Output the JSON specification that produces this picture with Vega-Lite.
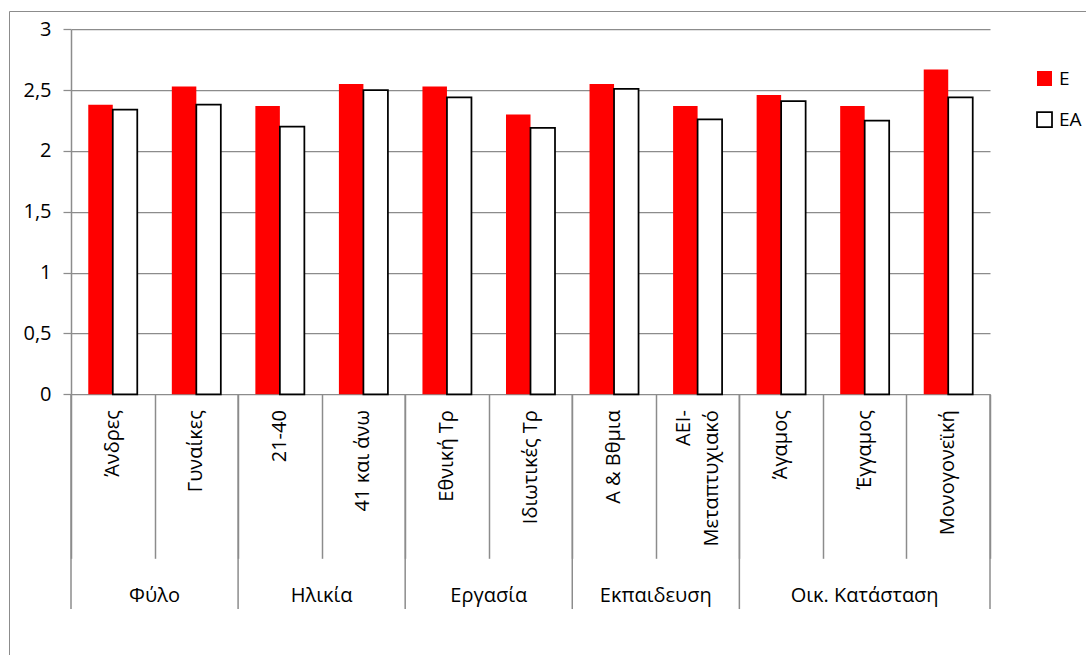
{
  "$schema": "https://vega.github.io/schema/vega-lite/v6.json",
  "width": 1077,
  "height": 644,
  "autosize": {"type": "none"},
  "padding": {"left": 9, "top": 11, "right": 0, "bottom": 0},
  "background": "#ffffff",
  "config": {
    "view": {"stroke": "#8c8c8c", "strokeWidth": 1},
    "font": "Open Sans",
    "text": {"font": "Open Sans", "fontSize": 20, "color": "#000000"}
  },
  "datasets": {
    "scores": [
      {"cat": "Άνδρες", "group": "Φύλο", "series": "Ε", "value": 2.38},
      {"cat": "Άνδρες", "group": "Φύλο", "series": "ΕΑ", "value": 2.34},
      {"cat": "Γυναίκες", "group": "Φύλο", "series": "Ε", "value": 2.53},
      {"cat": "Γυναίκες", "group": "Φύλο", "series": "ΕΑ", "value": 2.38},
      {"cat": "21-40", "group": "Ηλικία", "series": "Ε", "value": 2.37},
      {"cat": "21-40", "group": "Ηλικία", "series": "ΕΑ", "value": 2.2},
      {"cat": "41 και άνω", "group": "Ηλικία", "series": "Ε", "value": 2.55},
      {"cat": "41 και άνω", "group": "Ηλικία", "series": "ΕΑ", "value": 2.5},
      {"cat": "Εθνική Τρ", "group": "Εργασία", "series": "Ε", "value": 2.53},
      {"cat": "Εθνική Τρ", "group": "Εργασία", "series": "ΕΑ", "value": 2.44},
      {"cat": "Ιδιωτικές Τρ", "group": "Εργασία", "series": "Ε", "value": 2.3},
      {"cat": "Ιδιωτικές Τρ", "group": "Εργασία", "series": "ΕΑ", "value": 2.19},
      {"cat": "Α & Βθμια", "group": "Εκπαιδευση", "series": "Ε", "value": 2.55},
      {"cat": "Α & Βθμια", "group": "Εκπαιδευση", "series": "ΕΑ", "value": 2.51},
      {"cat": "ΑΕΙ-Μεταπτυχιακό", "group": "Εκπαιδευση", "series": "Ε", "value": 2.37},
      {"cat": "ΑΕΙ-Μεταπτυχιακό", "group": "Εκπαιδευση", "series": "ΕΑ", "value": 2.26},
      {"cat": "Άγαμος", "group": "Οικ. Κατάσταση", "series": "Ε", "value": 2.46},
      {"cat": "Άγαμος", "group": "Οικ. Κατάσταση", "series": "ΕΑ", "value": 2.41},
      {"cat": "Έγγαμος", "group": "Οικ. Κατάσταση", "series": "Ε", "value": 2.37},
      {"cat": "Έγγαμος", "group": "Οικ. Κατάσταση", "series": "ΕΑ", "value": 2.25},
      {"cat": "Μονογονεϊκή", "group": "Οικ. Κατάσταση", "series": "Ε", "value": 2.67},
      {"cat": "Μονογονεϊκή", "group": "Οικ. Κατάσταση", "series": "ΕΑ", "value": 2.44}
    ],
    "categories": [
      {"cat": "Άνδρες", "label": "Άνδρες", "lines": 1},
      {"cat": "Γυναίκες", "label": "Γυναίκες", "lines": 1},
      {"cat": "21-40", "label": "21-40", "lines": 1},
      {"cat": "41 και άνω", "label": "41 και άνω", "lines": 1},
      {"cat": "Εθνική Τρ", "label": "Εθνική Τρ", "lines": 1},
      {"cat": "Ιδιωτικές Τρ", "label": "Ιδιωτικές Τρ", "lines": 1},
      {"cat": "Α & Βθμια", "label": "Α & Βθμια", "lines": 1},
      {"cat": "ΑΕΙ-Μεταπτυχιακό", "label": "ΑΕΙ-\nΜεταπτυχιακό", "lines": 2},
      {"cat": "Άγαμος", "label": "Άγαμος", "lines": 1},
      {"cat": "Έγγαμος", "label": "Έγγαμος", "lines": 1},
      {"cat": "Μονογονεϊκή", "label": "Μονογονεϊκή", "lines": 1}
    ],
    "groups": [
      {"group": "Φύλο", "first": "Άνδρες", "mid": "Γυναίκες", "last": "Γυναίκες", "span": 2},
      {"group": "Ηλικία", "first": "21-40", "mid": "41 και άνω", "last": "41 και άνω", "span": 2},
      {"group": "Εργασία", "first": "Εθνική Τρ", "mid": "Ιδιωτικές Τρ", "last": "Ιδιωτικές Τρ", "span": 2},
      {"group": "Εκπαιδευση", "first": "Α & Βθμια", "mid": "ΑΕΙ-Μεταπτυχιακό", "last": "ΑΕΙ-Μεταπτυχιακό", "span": 2},
      {"group": "Οικ. Κατάσταση", "first": "Άγαμος", "mid": "Έγγαμος", "last": "Μονογονεϊκή", "span": 3}
    ]
  },
  "layer": [
    {
      "data": {"name": "scores"},
      "mark": {"type": "bar", "strokeWidth": 1.75},
      "encoding": {
        "x": {
          "field": "cat",
          "type": "nominal",
          "sort": null,
          "scale": {
            "domain": ["Άνδρες", "Γυναίκες", "21-40", "41 και άνω", "Εθνική Τρ", "Ιδιωτικές Τρ", "Α & Βθμια", "ΑΕΙ-Μεταπτυχιακό", "Άγαμος", "Έγγαμος", "Μονογονεϊκή"],
            "range": [62, 981],
            "paddingInner": 0,
            "paddingOuter": 0
          },
          "axis": {
            "orient": "bottom",
            "offset": -260.7,
            "title": null,
            "labels": false,
            "domain": false,
            "grid": false,
            "ticks": true,
            "tickBand": "extent",
            "tickSize": 164,
            "tickColor": "#8c8c8c",
            "tickWidth": 1.5
          }
        },
        "xOffset": {
          "field": "series",
          "type": "nominal",
          "sort": null,
          "scale": {"domain": ["Ε", "ΕΑ"], "paddingInner": 0, "paddingOuter": 0.705}
        },
        "y": {
          "field": "value",
          "type": "quantitative",
          "scale": {"domain": [0, 3], "range": [383.3, 18.3], "nice": false, "zero": true},
          "axis": {
            "orient": "left",
            "offset": -62,
            "values": [0, 0.5, 1, 1.5, 2, 2.5, 3],
            "labelExpr": "replace(format(datum.value, '~g'), '.', ',')",
            "domain": true,
            "domainColor": "#8c8c8c",
            "domainWidth": 1.5,
            "grid": true,
            "gridColor": "#8c8c8c",
            "gridWidth": 1.25,
            "gridOpacity": 1,
            "ticks": true,
            "tickSize": 8,
            "tickColor": "#8c8c8c",
            "tickWidth": 1.25,
            "labelPadding": 12,
            "labelFont": "Open Sans",
            "labelFontSize": 20,
            "labelColor": "#000000",
            "title": null
          }
        },
        "fill": {
          "field": "series",
          "type": "nominal",
          "scale": {"domain": ["Ε", "ΕΑ"], "range": ["#ff0000", "#ffffff"]},
          "legend": {
            "title": null,
            "orient": "none",
            "legendX": 1026,
            "legendY": 58,
            "padding": 0,
            "symbolType": "square",
            "symbolSize": 225,
            "symbolStrokeWidth": 1.75,
            "labelFont": "Open Sans",
            "labelFontSize": 19,
            "labelColor": "#000000",
            "labelOffset": 5,
            "rowPadding": 18
          }
        },
        "stroke": {
          "field": "series",
          "type": "nominal",
          "scale": {"domain": ["Ε", "ΕΑ"], "range": ["rgba(0,0,0,0)", "#000000"]}
        }
      }
    },
    {
      "data": {"name": "groups"},
      "mark": {"type": "rule", "color": "#8c8c8c", "strokeWidth": 1.5},
      "encoding": {
        "x": {"field": "first", "type": "nominal", "sort": null, "bandPosition": 0},
        "y": {"datum": 0, "type": "quantitative"},
        "y2": {"datum": -1.765}
      }
    },
    {
      "data": {"name": "groups"},
      "transform": [{"filter": "datum.span == 3"}],
      "mark": {"type": "rule", "color": "#8c8c8c", "strokeWidth": 1.5},
      "encoding": {
        "x": {"field": "last", "type": "nominal", "sort": null, "bandPosition": 1},
        "y": {"datum": 0, "type": "quantitative"},
        "y2": {"datum": -1.765}
      }
    },
    {
      "data": {"name": "categories"},
      "transform": [{"filter": "datum.lines == 1"}],
      "mark": {"type": "text", "angle": 270, "align": "right", "baseline": "middle"},
      "encoding": {
        "x": {"field": "cat", "type": "nominal", "sort": null},
        "y": {"datum": -0.13, "type": "quantitative"},
        "text": {"field": "label"}
      }
    },
    {
      "data": {"name": "categories"},
      "transform": [{"filter": "datum.lines == 2"}],
      "mark": {"type": "text", "angle": 270, "align": "right", "baseline": "middle", "lineBreak": "\n", "lineHeight": 28, "dy": -14},
      "encoding": {
        "x": {"field": "cat", "type": "nominal", "sort": null},
        "y": {"datum": -0.13, "type": "quantitative"},
        "text": {"field": "label"}
      }
    },
    {
      "data": {"name": "groups"},
      "transform": [{"filter": "datum.span == 2"}],
      "mark": {"type": "text", "align": "center", "baseline": "middle"},
      "encoding": {
        "x": {"field": "mid", "type": "nominal", "sort": null, "bandPosition": 0},
        "y": {"datum": -1.66, "type": "quantitative"},
        "text": {"field": "group"}
      }
    },
    {
      "data": {"name": "groups"},
      "transform": [{"filter": "datum.span == 3"}],
      "mark": {"type": "text", "align": "center", "baseline": "middle"},
      "encoding": {
        "x": {"field": "mid", "type": "nominal", "sort": null, "bandPosition": 0.5},
        "y": {"datum": -1.66, "type": "quantitative"},
        "text": {"field": "group"}
      }
    }
  ]
}
